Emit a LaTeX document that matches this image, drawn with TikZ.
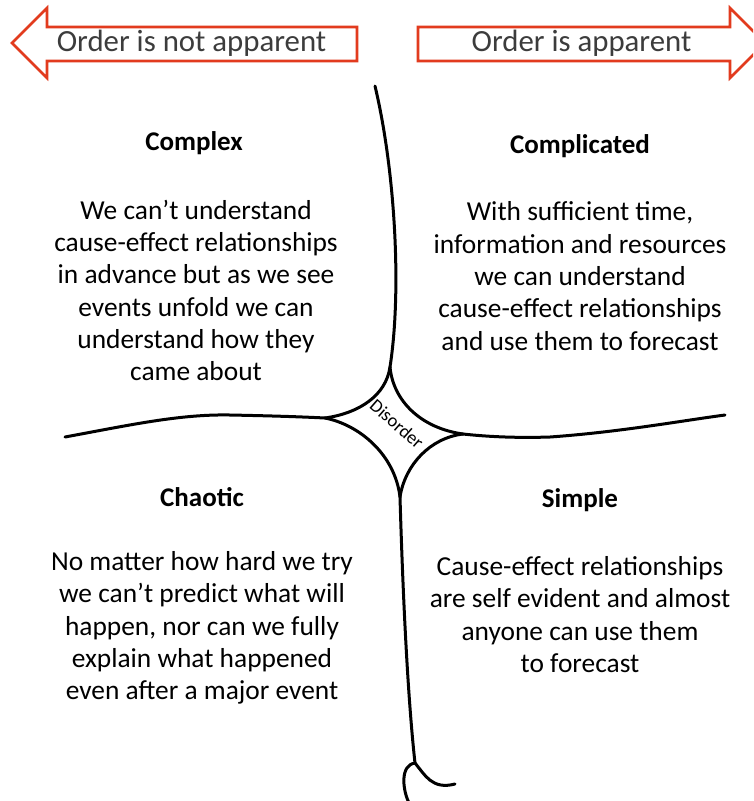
\documentclass[tikz,border=0pt]{standalone}
\usepackage{fontspec}
\setmainfont{Carlito}
\definecolor{arrowred}{HTML}{E23B1E}
\definecolor{arrowtext}{HTML}{3C3C3C}
\begin{document}
\begin{tikzpicture}[x=1pt,y=-1pt,
  bigarrow/.style={draw=arrowred,line width=2.6pt,fill=white,line join=miter},
  arrowlabel/.style={text=arrowtext,font=\fontsize{30.8}{36}\selectfont,inner sep=0pt},
  heading/.style={font=\bfseries\fontsize{27}{32}\selectfont,inner sep=0pt},
  body/.style={font=\fontsize{27.4}{32.3}\selectfont,align=center,inner sep=0pt},
  framework/.style={line width=3pt,line cap=round,line join=round},
  disorderlabel/.style={font=\fontsize{18.5}{22}\selectfont,inner sep=0pt,rotate=-41}]
\useasboundingbox (0,0) rectangle (753,801);
\clip (0,0) rectangle (753,801);
\fill[white] (0,0) rectangle (753,801);

% arrows
\draw[bigarrow] (12,43) -- (47,8) -- (47,27) -- (357,27) -- (357,61) -- (47,61) -- (47,78) -- cycle;
\draw[bigarrow] (765,43) -- (730,8) -- (730,27) -- (418,27) -- (418,61) -- (730,61) -- (730,78) -- cycle;
\node[arrowlabel] (lefttext) at (191.5,43) {Order is not apparent};
\node[arrowlabel] (righttext) at (581.5,43) {Order is apparent};

% framework coordinates
\coordinate (ctop) at (390,367);
\coordinate (cleft) at (325,418);
\coordinate (cright) at (463,434);
\coordinate (cbot) at (400,497);
\coordinate (vtop) at (375,86);
\coordinate (hleft) at (65,437);
\coordinate (hright) at (725,415);
\coordinate (vbot) at (415,763);

\draw[framework] (vtop) .. controls (395,170) and (402,290) .. (ctop);
\draw[framework] (ctop) .. controls (386,395) and (360,413) .. (cleft);
\draw[framework] (ctop) .. controls (393,400) and (420,428) .. (cright);
\draw[framework] (cleft) .. controls (360,425) and (395,455) .. (cbot);
\draw[framework] (cright) .. controls (430,438) and (405,465) .. (cbot);
\draw[framework] (hleft) .. controls (130,425) and (180,414) .. (230,415)
   .. controls (280,416) and (305,417) .. (cleft);
\draw[framework] (cright) .. controls (490,437) and (520,438) .. (550,437)
   .. controls (620,432) and (680,421) .. (hright);
\draw[framework] (cbot) .. controls (403,600) and (408,700) .. (vbot);
\draw[framework] (vbot) .. controls (400,765) and (402,790) .. (410,805);
\draw[framework] (vbot) .. controls (425,775) and (432,790) .. (455,784);

\node[disorderlabel] (disorder) at (397,424) {Disorder};

% quadrant texts
\node[heading] (complex) at (194,143) {Complex};
\node[heading] (complicated) at (580,146) {Complicated};
\node[heading] (chaotic) at (202,497) {Chaotic};
\node[heading] (simple) at (580,500) {Simple};

\node[body] (complextext) at (196,290.5) {We can’t understand\\cause-effect relationships\\in advance but as we see\\events unfold we can\\understand how they\\came about};
\node[body] (complicatedtext) at (580,276) {With sufficient time,\\information and resources\\we can understand\\cause-effect relationships\\and use them to forecast};
\node[body] (chaotictext) at (202,628) {No matter how hard we try\\we can’t predict what will\\happen, nor can we fully\\explain what happened\\even after a major event};
\node[body] (simpletext) at (580,614.5) {Cause-effect relationships\\are self evident and almost\\anyone can use them\\to forecast};
\end{tikzpicture}
\end{document}
